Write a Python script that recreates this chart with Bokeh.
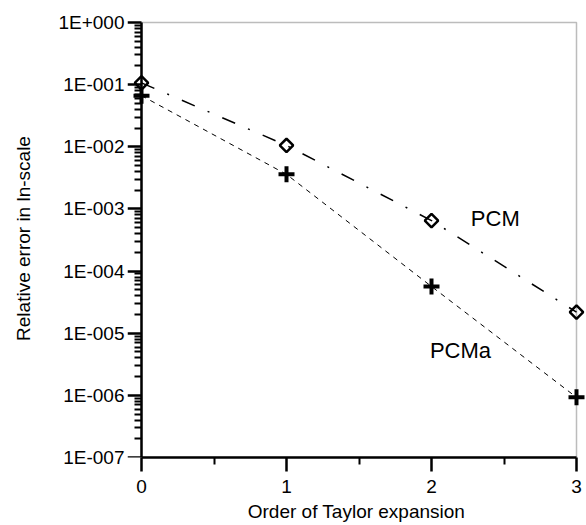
import math
from bokeh.plotting import figure
from bokeh.models import (Range1d, LogAxis, LinearAxis, FixedTicker, Label, Grid,
                          CustomJSTickFormatter, BoxAnnotation)
from bokeh.embed import file_html
from bokeh.resources import INLINE

# ---- data ----
orders = [0, 1, 2, 3]
pcm = [0.107, 0.0105, 6.5e-4, 2.18e-5]
pcma = [0.0665, 0.0036, 5.65e-5, 9.3e-7]

y_ticks = [1e-7, 1e-6, 1e-5, 1e-4, 1e-3, 1e-2, 1e-1, 1.0]
y_tick_labels = ["1E-007", "1E-006", "1E-005", "1E-004",
                 "1E-003", "1E-002", "1E-001", "1E+000"]
x_ticks = [0, 1, 2, 3]
x_minor_ticks = [0.5, 1.5, 2.5]
x_tick_labels = ["0", "1", "2", "3"]
y_minor_ticks = [m * 10.0 ** e for e in range(-7, 0) for m in range(2, 10)]

x_title = "Order of Taylor expansion"
y_title = "Relative error in ln-scale"
series_names = ["PCM", "PCMa"]

# ---- layout ----
X_LO, X_HI = 0, 3
Y_LO, Y_HI = 1e-7, 1.0
PX_X = 145.0      # px per x unit
PX_DEC = 62.14    # px per decade
PAD_L, PAD_R, PAD_T = 14, 9, 3

FONT = "Liberation Sans"

xr = Range1d(X_LO - PAD_L / PX_X, X_HI + PAD_R / PX_X)
yr = Range1d(Y_LO, Y_HI * 10 ** (PAD_T / PX_DEC))

p = figure(width=586, height=525, x_range=xr, y_range=yr,
           x_axis_type=None, y_axis_type="log", y_axis_location=None,
           output_backend="svg", toolbar_location=None,
           min_border_left=127, min_border_right=1,
           min_border_top=19, min_border_bottom=68)
p.center = [r for r in p.center if not isinstance(r, Grid)]
p.outline_line_color = None
p.background_fill_color = "white"
p.border_fill_color = "white"

def style_axis(ax, label_standoff):
    ax.axis_line_width = 2.5
    ax.axis_line_color = "black"
    ax.major_tick_line_width = 2.5
    ax.major_tick_line_color = "black"
    ax.minor_tick_line_width = 2
    ax.minor_tick_line_color = "black"
    ax.major_tick_out = 14
    ax.major_tick_in = 0
    ax.minor_tick_out = 7
    ax.minor_tick_in = 0
    ax.major_label_text_font = FONT
    ax.major_label_text_font_size = "19px"
    ax.major_label_text_color = "black"
    ax.major_label_standoff = label_standoff

def lookup_formatter(vals, labs, log=False):
    cmp = ("Math.abs(Math.log10(tvals[i]) - Math.log10(tick)) < 1e-6" if log
           else "Math.abs(tvals[i] - tick) < 1e-9")
    return CustomJSTickFormatter(
        args=dict(tvals=vals, tlabs=labs),
        code=f"""
        for (let i = 0; i < tvals.length; i++) {{
            if ({cmp}) return tlabs[i];
        }}
        return "";
        """)

# frame lines (top and right edges of the data box)
p.add_layout(BoxAnnotation(left=X_LO, right=X_HI, bottom=Y_LO, top=Y_HI,
                           fill_color=None, line_color="#222222",
                           line_width=1.5, level="underlay"))

# y tick labels + title: an axis at the frame's left edge with no line/ticks
ylab_axis = LogAxis(ticker=FixedTicker(ticks=y_ticks, minor_ticks=[]),
                    formatter=lookup_formatter(y_ticks, y_tick_labels, log=True))
style_axis(ylab_axis, 3)
ylab_axis.axis_line_color = None
ylab_axis.major_tick_line_color = None
ylab_axis.minor_tick_line_color = None
ylab_axis.major_tick_out = 0
ylab_axis.minor_tick_out = 0
ylab_axis.axis_label = y_title
ylab_axis.axis_label_text_font = FONT
ylab_axis.axis_label_text_font_size = "19px"
ylab_axis.axis_label_text_font_style = "normal"
ylab_axis.axis_label_text_color = "black"
ylab_axis.axis_label_standoff = 21
p.add_layout(ylab_axis, "left")

# y axis line and ticks at x = 0 (right panel: takes no left space,
# its "in" ticks point to the left)
yaxis = LogAxis(fixed_location=X_LO, bounds=(Y_LO, Y_HI),
                ticker=FixedTicker(ticks=y_ticks, minor_ticks=y_minor_ticks),
                formatter=lookup_formatter([], []))
style_axis(yaxis, 0)
yaxis.major_tick_out = 0
yaxis.minor_tick_out = 0
yaxis.major_tick_in = 14
yaxis.minor_tick_in = 7
p.add_layout(yaxis, "right")

xaxis = LinearAxis(bounds=(X_LO, X_HI),
                   ticker=FixedTicker(ticks=x_ticks, minor_ticks=x_minor_ticks),
                   formatter=lookup_formatter(x_ticks, x_tick_labels))
style_axis(xaxis, 8)
xaxis.axis_label = x_title
xaxis.axis_label_text_font = FONT
xaxis.axis_label_text_font_size = "19px"
xaxis.axis_label_text_font_style = "normal"
xaxis.axis_label_text_color = "black"
xaxis.axis_label_standoff = 5
p.add_layout(xaxis, "below")

# series lines
p.line(orders, pcm, line_color="black", line_width=1.5, line_dash="14 14 2 14")
p.line(orders, pcma, line_color="black", line_width=1, line_dash="5 5")

# markers
p.scatter(orders, pcm, marker="square", angle=math.pi / 4, size=9.5,
          fill_color=None, line_color="black", line_width=2.5)
p.scatter(orders, pcma, marker="cross", size=16,
          line_color="black", line_width=4)

# series labels
p.add_layout(Label(x=2.44, y=7.0e-4, text=series_names[0], text_font=FONT,
                   text_font_size="22px", text_align="center",
                   text_baseline="middle", text_color="black"))
p.add_layout(Label(x=2.2, y=5.27e-6, text=series_names[1], text_font=FONT,
                   text_font_size="22px", text_align="center",
                   text_baseline="middle", text_color="black"))

open("out.html", "w").write(file_html(p, INLINE))
